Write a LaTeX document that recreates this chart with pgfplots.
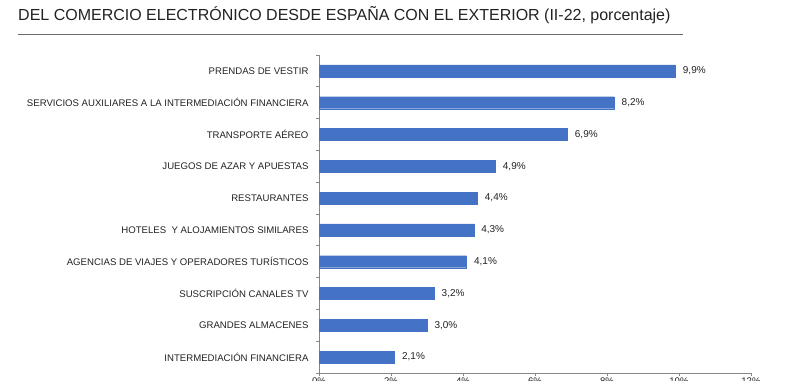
\documentclass[border=0pt]{standalone}
\usepackage{fontspec}
\setmainfont{Liberation Sans}
\usepackage{pgfplots}
\pgfplotsset{compat=1.18}
\definecolor{barblue}{RGB}{68,114,196}
\definecolor{axgray}{RGB}{134,134,134}
\definecolor{txt}{RGB}{34,34,34}
\begin{document}
\begin{tikzpicture}
\useasboundingbox (0pt,0pt) rectangle (800pt,-380pt);
\node[anchor=base west, font=\fontsize{16}{18}\selectfont, inner sep=0, text=txt] at (18pt,-20pt) {DEL COMERCIO ELECTRÓNICO DESDE ESPAÑA CON EL EXTERIOR (II-22, porcentaje)};
\draw[axgray!80!black, line width=1pt] (18pt,-34pt) -- (683pt,-34pt);
\begin{axis}[
  at={(319pt,-373pt)}, anchor=south west,
  scale only axis, width=432pt, height=318pt,
  xmin=0, xmax=12, ymin=0.5, ymax=10.5,
  y dir=reverse,
  xbar, bar width=12pt,
  axis x line*=bottom, axis y line*=left,
  axis line style={axgray, line width=0.8pt},
  /pgf/number format/assume math mode=true,
  xtick={0,2,...,12},
  xticklabels={0\%,2\%,4\%,6\%,8\%,10\%,12\%},
  ytick={1,...,10},
  yticklabels={PRENDAS DE VESTIR,SERVICIOS AUXILIARES A LA INTERMEDIACIÓN FINANCIERA,TRANSPORTE AÉREO,JUEGOS DE AZAR Y APUESTAS,RESTAURANTES,HOTELES\ \ Y ALOJAMIENTOS SIMILARES,AGENCIAS DE VIAJES Y OPERADORES TURÍSTICOS,SUSCRIPCIÓN CANALES TV,GRANDES ALMACENES,INTERMEDIACIÓN FINANCIERA},
  minor ytick={0.5,1.5,...,10.5},
  tick align=outside,
  major tick length=3pt,
  minor tick length=3pt,
  y tick style={draw=none},
  minor y tick style={draw=axgray, line width=0.8pt},
  x tick style={axgray, line width=0.8pt},
  tick label style={font=\fontsize{9.6}{11}\selectfont, text=txt},
  yticklabel style={xshift=-4pt},
  xticklabel style={yshift=2pt},
  nodes near coords={\pgfmathprintnumber[fixed,fixed zerofill,precision=1,use comma]{\pgfplotspointmeta}\%},
  nodes near coords align={horizontal},
  every node near coord/.append style={font=\fontsize{10}{12}\selectfont, text=txt, xshift=4pt},
  point meta=x,
]
\addplot[fill=barblue, draw=barblue, line width=0.4pt] coordinates {
(9.9,1) (8.2,2) (6.9,3) (4.9,4) (4.4,5) (4.3,6) (4.1,7) (3.2,8) (3.0,9) (2.1,10)};
\end{axis}
\end{tikzpicture}
\end{document}
